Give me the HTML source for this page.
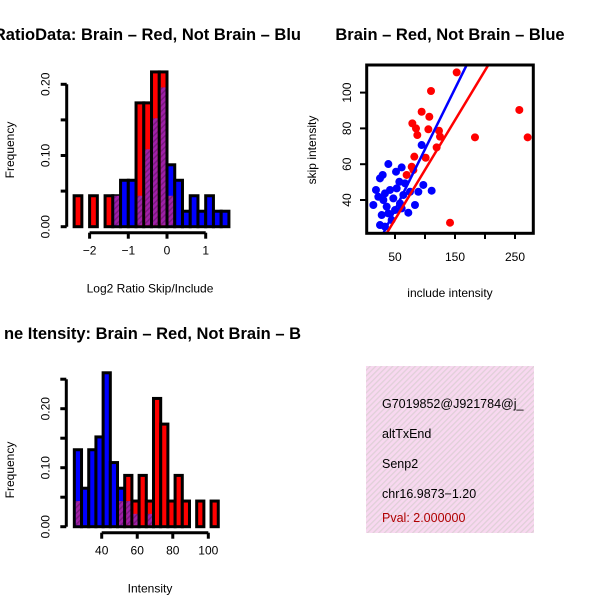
<!DOCTYPE html>
<html><head><meta charset="utf-8"><style>
html,body{margin:0;padding:0;background:#fff}
svg{display:block;font-family:"Liberation Sans",sans-serif}
</style></head><body>
<svg id="c" width="600" height="600" viewBox="0 0 600 600">
<defs>
<pattern id="hatch" width="4" height="4" patternUnits="userSpaceOnUse" patternTransform="rotate(45)">
<rect width="4" height="4" fill="#a020a8"/><rect width="1.5" height="4" fill="#7a1a80"/></pattern>
<pattern id="pink" width="4" height="4" patternUnits="userSpaceOnUse" patternTransform="rotate(45)">
<rect width="4" height="4" fill="#f8d8f0"/><rect width="1.3" height="4" fill="#e0d0d8"/></pattern>
</defs>
<g id="g1"></g><g id="g2"></g><g id="g3"></g>
<g>
<rect x="366" y="366" width="168" height="167" fill="url(#pink)"/>
<g font-size="12.5" fill="#000">
<text x="382" y="408">G7019852@J921784@j_</text>
<text x="382" y="438">altTxEnd</text>
<text x="382" y="468">Senp2</text>
<text x="382" y="498">chr16.9873−1.20</text>
<text x="382" y="522" fill="#b00000">Pval: 2.000000</text>
</g></g>
</svg>
<script>
const ratioBinStart = -2.4;
const ratioBinWidth = 0.2;
const ratioRedCounts = [1,0,1,0,1,1,0,0,4,4,5,5,1,0,0,0,0,0,0,0];
const ratioBlueCounts = [0,0,0,0,0,2,3,3,2,5,7,9,4,3,1,2,1,2,1,1];
const ratioRedN = 23;
const ratioBlueN = 46;
const ratioXTicks = [-2,-1,0,1];
const ratioYTicks = [0,0.05,0.1,0.15,0.2];
const ratioYLabels = ["0.00","","0.10","","0.20"];
const intBinStart = 24.6;
const intBinWidth = 4.05;
const intRedCounts = [1,0,0,0,0,0,1,2,1,2,1,5,4,1,2,1,0,1,0,1,0];
const intBlueCounts = [6,3,6,7,12,5,3,2,1,0,1,0,0,0,0,0,0,0,0,0,0];
const intRedN = 23;
const intBlueN = 46;
const intXTicks = [40,60,80,100];
const intYTicks = [0,0.05,0.1,0.15,0.2,0.25];
const intYLabels = ["0.00","","0.10","","0.20",""];
const redInclude = [152.8,110,94.4,107.2,78.9,85,105.6,123.3,125,257.2,271.1,183.3,119.4,82.2,101.1,77.8,141.7,87.2,80.6,69.4];
const redSkip = [111.3,100.9,89.3,86.5,82.8,80,79.5,78.7,75.4,90.3,75,75,69.4,64.2,63.6,58.6,27.3,76.3,56.7,54];
const blueInclude = [38.9,29.5,25,61.1,51.7,94.4,18.3,33.3,52.8,66.7,97.2,111.1,13.9,30.6,47.2,63.9,83.3,72.2,27.8,38.9,25,33.3,44.4,58.3,22.2,41.7,75,57.2,36.1,50,61.1,88.9];
const blueSkip = [60.1,54,52.1,58.2,55.8,70.7,45.6,43.7,46.5,49.3,48.4,45.2,37.2,40,40.9,42.8,37.2,32.9,31.6,32.5,26,25.1,28.8,38.1,41.8,45.6,44.6,50.2,36.3,34.4,35.3,44.6];
const fitIntercepts = [1.36,0.68];
const fitSlopes = [0.555,0.677];
const scatterXTicks = [50,100,150,200,250];
const scatterXLabels = ["50","","150","","250"];
const scatterYTicks = [40,60,80,100];

const NS="http://www.w3.org/2000/svg";
function mk(p,tag,a,txt){const e=document.createElementNS(NS,tag);for(const k in a)e.setAttribute(k,a[k]);if(txt!==undefined)e.textContent=txt;p.appendChild(e);return e;}

function hist(g,o){
  const sx=v=>o.x0+(v-o.v0)*o.kx, sy=v=>o.y0-v*o.ky;
  const tt=mk(g,'text',{x:o.titleX,y:o.titleY,'font-size':16.5,'font-weight':'bold','text-anchor':'end'},o.title);
  
  
  for(let i=0;i<o.red.length;i++){
    const l=sx(o.start+i*o.w), r=sx(o.start+(i+1)*o.w);
    const rh=o.red[i]/o.rn, bh=o.blue[i]/o.bn;
    const mx=Math.max(rh,bh), mn=Math.min(rh,bh);
    if(mx<=0) continue;
    const col = rh>bh ? '#ff0000' : '#0000ff';
    const b=mk(g,'rect',{x:l,y:sy(mx),width:r-l,height:sy(0)-sy(mx),fill:col,stroke:'#000','stroke-width':3});
    
    
    if(mn>0){
      const p=mk(g,'rect',{x:l+1.5,y:sy(mn),width:r-l-3,height:sy(0)-sy(mn)-1.5,fill:'url(#hatch)'});
      
      
    }
  }
  const xa=mk(g,'g',{});
  
  
  const ay=o.y0+6;
  mk(xa,'line',{x1:sx(o.xt[0]),x2:sx(o.xt[o.xt.length-1]),y1:ay,y2:ay,stroke:'#000','stroke-width':3});
  o.xt.forEach(t=>{mk(xa,'line',{x1:sx(t),x2:sx(t),y1:ay,y2:ay+6,stroke:'#000','stroke-width':3});
    mk(xa,'text',{x:sx(t),y:ay+22,'font-size':12,'text-anchor':'middle'},String(t).replace('-','−'));});
  const xt=mk(xa,'text',{x:150,y:ay+60,'font-size':12,'text-anchor':'middle'},o.xlab);
  
  
  const ya=mk(g,'g',{});
  
  
  const ax=o.axisX;
  mk(ya,'line',{x1:ax,x2:ax,y1:sy(o.yt[0]),y2:sy(o.yt[o.yt.length-1]),stroke:'#000','stroke-width':3});
  o.yt.forEach((t,i)=>{mk(ya,'line',{x1:ax,x2:ax-6,y1:sy(t),y2:sy(t),stroke:'#000','stroke-width':3});
    if(o.yl[i]) mk(ya,'text',{x:ax-21,y:sy(t),'font-size':12,'text-anchor':'middle','dominant-baseline':'central',transform:`rotate(-90 ${ax-21} ${sy(t)})`},o.yl[i]);});
  const yt=mk(ya,'text',{x:10,y:o.yTitleY,'font-size':12,'text-anchor':'middle','dominant-baseline':'central',transform:`rotate(-90 10 ${o.yTitleY})`},'Frequency');
  
  
}
const g1=document.getElementById('g1');


hist(g1,{title:'RatioData: Brain – Red, Not Brain – Blu',titleX:301,titleY:40,red:ratioRedCounts,blue:ratioBlueCounts,rn:ratioRedN,bn:ratioBlueN,
  start:ratioBinStart,w:ratioBinWidth,x0:167,v0:0,kx:38.7,y0:226.7,ky:712,axisX:66.7,xt:ratioXTicks,yt:ratioYTicks,yl:ratioYLabels,xlab:'Log2 Ratio Skip/Include',yTitleY:150});
const g2=document.getElementById('g2');


hist(g2,{title:'ne Itensity: Brain – Red, Not Brain – B',titleX:301,titleY:339,red:intRedCounts,blue:intBlueCounts,rn:intRedN,bn:intBlueN,
  start:intBinStart,w:intBinWidth,x0:101.7,v0:40,kx:1.777,y0:526.7,ky:590,axisX:66.3,xt:intXTicks,yt:intYTicks,yl:intYLabels,xlab:'Intensity',yTitleY:470});

const g3=document.getElementById('g3');


const SX=v=>395+(v-50)*0.6, SY=v=>200-(v-40)*1.79;
const st=mk(g3,'text',{x:450,y:40,'font-size':16.5,'font-weight':'bold','text-anchor':'middle'},'Brain – Red, Not Brain – Blue');


const clip=mk(g3,'clipPath',{id:'sc'});mk(clip,'rect',{x:366.7,y:65,width:166.6,height:168.3});
const pts=mk(g3,'g',{'clip-path':'url(#sc)'});
redInclude.forEach((v,i)=>{const c=mk(pts,'circle',{cx:SX(v),cy:SY(redSkip[i]),r:4,fill:'#ff0000'});
  
  });
blueInclude.forEach((v,i)=>{const c=mk(pts,'circle',{cx:SX(v),cy:SY(blueSkip[i]),r:4,fill:'#0000ff'});
  
  });
['#ff0000','#0000ff'].forEach((col,i)=>{const a=fitIntercepts[i],b=fitSlopes[i];
  const l=mk(pts,'line',{x1:SX(0),y1:SY(a),x2:SX(300),y2:SY(a+b*300),stroke:col,'stroke-width':2.5});
  
  });
const fr=mk(g3,'rect',{x:366.7,y:65,width:166.6,height:168.3,fill:'none',stroke:'#000','stroke-width':3});


scatterXTicks.forEach((t,i)=>{mk(g3,'line',{x1:SX(t),x2:SX(t),y1:233,y2:239,stroke:'#000','stroke-width':2});
  if(scatterXLabels[i]) mk(g3,'text',{x:SX(t),y:261,'font-size':12,'text-anchor':'middle'},scatterXLabels[i]);});
scatterYTicks.forEach(t=>{mk(g3,'line',{x1:366,x2:360,y1:SY(t),y2:SY(t),stroke:'#000','stroke-width':2});
  mk(g3,'text',{x:347,y:SY(t),'font-size':12,'text-anchor':'middle','dominant-baseline':'central',transform:`rotate(-90 347 ${SY(t)})`},String(t));});
const sxt=mk(g3,'text',{x:450,y:297,'font-size':12,'text-anchor':'middle'},'include intensity');


const syt=mk(g3,'text',{x:312,y:150,'font-size':12,'text-anchor':'middle','dominant-baseline':'central',transform:'rotate(-90 312 150)'},'skip intensity');


</script>
</body></html>
